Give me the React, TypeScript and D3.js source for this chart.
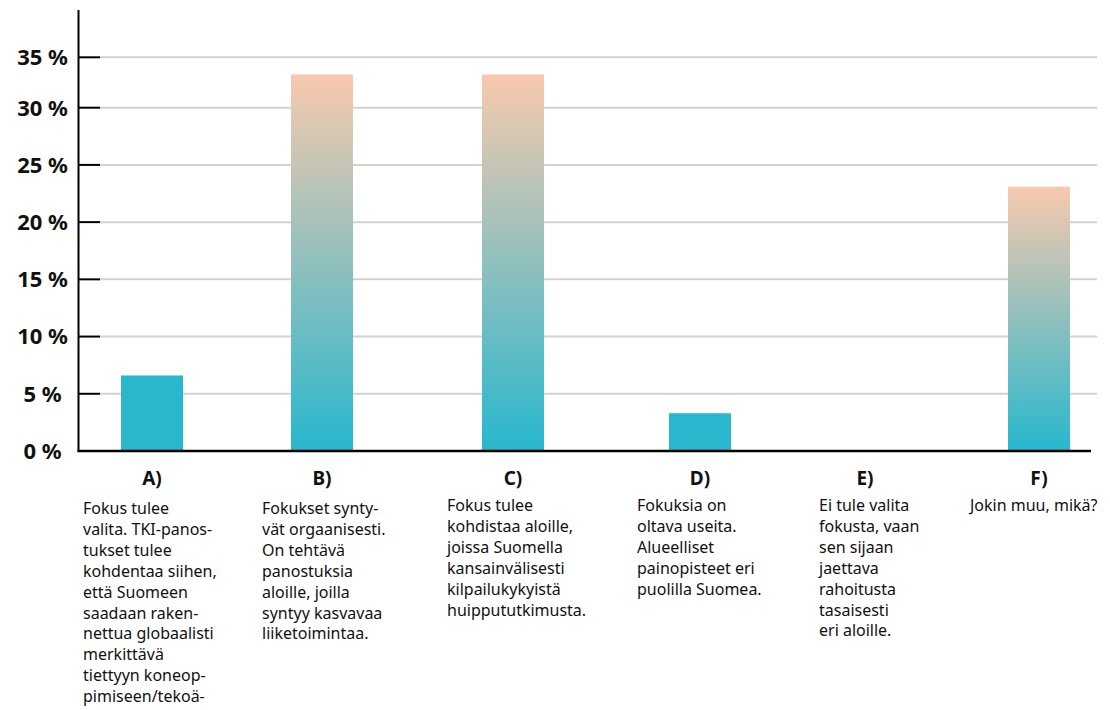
import React, { useEffect } from "react";
import * as d3 from "d3";

// Answer options and their share of responses (%)
const categories = ["A)", "B)", "C)", "D)", "E)", "F)"];
const shares = [6.6, 33.3, 33.3, 3.3, 0, 23.1];
const yTicks = [0, 5, 10, 15, 20, 25, 30, 35];
const tickLabels = ["0 %", "5 %", "10 %", "15 %", "20 %", "25 %", "30 %", "35 %"];

// Option texts, already broken into lines
const descriptions: string[][] = [
  [
    "Fokus tulee",
    "valita. TKI-panos-",
    "tukset tulee",
    "kohdentaa siihen,",
    "että Suomeen",
    "saadaan raken-",
    "nettua globaalisti",
    "merkittävä",
    "tiettyyn koneop-",
    "pimiseen/tekoä-",
  ],
  [
    "Fokukset synty-",
    "vät orgaanisesti.",
    "On tehtävä",
    "panostuksia",
    "aloille, joilla",
    "syntyy kasvavaa",
    "liiketoimintaa.",
  ],
  [
    "Fokus tulee",
    "kohdistaa aloille,",
    "joissa Suomella",
    "kansainvälisesti",
    "kilpailukykyistä",
    "huippututkimusta.",
  ],
  ["Fokuksia on", "oltava useita.", "Alueelliset", "painopisteet eri", "puolilla Suomea."],
  ["Ei tule valita", "fokusta, vaan", "sen sijaan", "jaettava", "rahoitusta", "tasaisesti", "eri aloille."],
  ["Jokin muu, mikä?"],
];

const W = 1110;
const H = 710;
const axisX = 78.5;
const baseY = 451;
const barW = 62;
const teal = "#28b7cd";
const peach = "#f8c9ae";
const font = "'Noto Sans', 'Open Sans', sans-serif";

// Column centres of the answer options
const colCenters = [152, 322, 513, 700, 865, 1039];
// Left edge of each description block relative to its column centre
const descOffsets = [-69, -60, -66, -63, -46, -69];
const descBaselines = [514, 514, 511, 511, 511, 511];

export default function App() {
  useEffect(() => {
    document.body.style.margin = "0";
  }, []);

  const x = d3.scaleOrdinal<string, number>().domain(categories).range(colCenters);
  const y = d3.scaleLinear().domain([0, 30, 35]).range([baseY, 107.7, 57.3]);

  return (
    <svg width={W} height={H} style={{ display: "block", background: "#fff" }}>
      <defs>
        <linearGradient id="barGrad" x1="0" y1="1" x2="0" y2="0">
          <stop offset="0" stopColor={teal} />
          <stop offset="1" stopColor={peach} />
        </linearGradient>
      </defs>

      {/* grid lines and ticks */}
      {yTicks.map((t, i) => (
        <g key={t}>
          {t > 0 && (
            <line x1={100} x2={1097} y1={y(t)} y2={y(t)} stroke="#d2d2d2" strokeWidth={2} />
          )}
          {t > 0 && (
            <line x1={axisX} x2={100} y1={y(t)} y2={y(t)} stroke="#000" strokeWidth={2} />
          )}
          <text
            x={42.5}
            y={y(t)}
            dy="0.36em"
            textAnchor="middle"
            fontFamily={font}
            fontWeight={700}
            fontSize={22}
            fill="#111"
          >
            {tickLabels[i]}
          </text>
        </g>
      ))}

      {/* bars */}
      {categories.map((c, i) =>
        shares[i] > 0 ? (
          <rect
            key={c}
            x={x(c) - barW / 2}
            y={y(shares[i])}
            width={barW}
            height={baseY - y(shares[i])}
            fill={shares[i] >= 10 ? "url(#barGrad)" : teal}
          />
        ) : null
      )}

      {/* axes */}
      <line x1={axisX} x2={axisX} y1={10} y2={baseY + 1} stroke="#000" strokeWidth={2} />
      <line x1={axisX - 1} x2={1091} y1={baseY} y2={baseY} stroke="#000" strokeWidth={2.5} />

      {/* category labels and descriptions */}
      {categories.map((c, i) => (
        <g key={c}>
          <text
            x={x(c)}
            y={485}
            textAnchor="middle"
            fontFamily={font}
            fontWeight={700}
            fontSize={19}
            fill="#111"
          >
            {c}
          </text>
          <text fontFamily={font} fontSize={16} fill="#111">
            {descriptions[i].map((line, j) => (
              <tspan key={j} x={x(c) + descOffsets[i]} y={descBaselines[i] + j * 20.9}>
                {line}
              </tspan>
            ))}
          </text>
        </g>
      ))}
    </svg>
  );
}
